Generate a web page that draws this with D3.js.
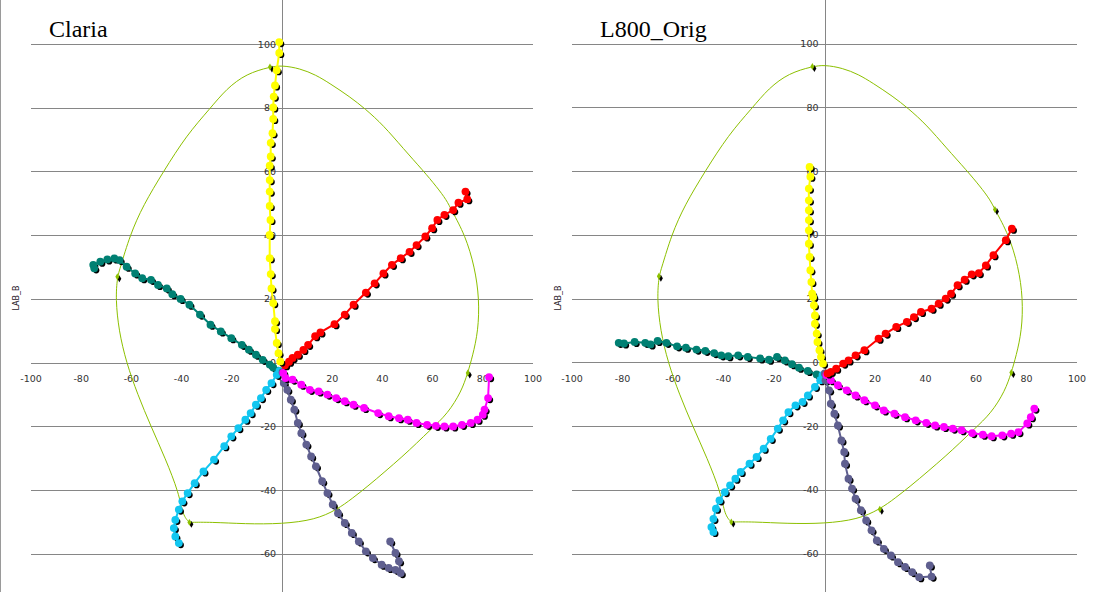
<!DOCTYPE html>
<html><head><meta charset="utf-8">
<script src="https://cdn.jsdelivr.net/npm/d3@7"></script>
<style>body{margin:0;background:#fff}svg{display:block}</style>
</head><body>
<svg id="c" width="1100" height="592"></svg>
<script>
const panelTitles = ["Claria", "L800_Orig"];
const xTicks = [-100,-80,-60,-40,-20,0,20,40,60,80,100];
const yTicks = [-60,-40,-20,0,20,40,60,80,100];
const yAxisTitle = "LAB_B";

// Gamut boundary (same target in both panels)
const gamutA = [-36.9,-36.9,-39.5,-41,-46.5,-52.2,-57.5,-62,-65,-66.3,-65.6,-64.5,-60.6,-55.3,-47.3,-38,-28.7,-22.1,-14.1,-4.8,0,7.2,13.5,19.1,27.1,33.1,40.4,48.3,56.3,61.6,65.6,67.5,73,76.8,78.6,78.2,75.9,74,71.5,66,59.2,53.6,48,41,34.1,28,21.9,13.2,0,-14.6,-28.5,-36.9,-36.9];
const gamutB = [-50.1,-50.1,-48,-41,-30,-20,-10,0,10,20,27,29.6,40,49.4,59.9,71.4,79.7,86,90.7,92.8,93.3,92.3,90.3,87.6,83.4,79.7,74.5,67.2,60.2,55.2,51,47.9,40,30,20,10,2,-3.2,-9,-16,-21,-25.3,-29.4,-34.2,-38.8,-42.6,-46.1,-49.3,-50.6,-50.6,-50,-50.1,-50.1];
const gamutVertA = [-4.8,67.5,74,21.9,-36.9,-65.6];
const gamutVertB = [92.8,47.9,-3.2,-46.1,-50.1,27];

// Claria series
const claYellowA = [-0.7,-1.4,-2.1,-2.8,-2.8,-3.5,-4.2,-4.5,-4.9,-4.9,-4.6,-4.9,-4.9,-4.9,-4.9,-4.5,-4.5,-3.8,-3.5,-3.5,-3.3,-2.8,-2.1,-1.1];
const claYellowB = [0.4,3,6.2,10.6,13,18.7,23.3,27.8,32.8,40.1,44.8,49.2,53.7,57.3,61.8,64.7,69,72,76.5,80.1,83.5,87,91.8,97.2];
const claYellowTopA = [-1.1];
const claYellowTopB = [100.6];
const claRedA = [1.2,2.8,4.2,6.3,8.5,10.4,13.2,15.3,20.9,25,28.5,33.4,36.9,40.4,43.8,47.3,50.8,53.6,57.1,59.8,61.9,64.7,68.2,70.3,73.8,73.1];
const claRedB = [-0.8,0.3,1.5,2.5,4,5.6,8.3,9.5,12.1,15.1,18.2,22,24.9,28,30.7,32.8,34.8,36.9,39.6,42.2,44.8,46.4,47.9,50.2,51.3,53.7];
const claTealA = [-1.5,-3.5,-4.9,-7.7,-10.4,-13.2,-16,-20.2,-24.4,-28.5,-32.7,-36.9,-40.4,-43.7,-45.9,-49.4,-52.2,-55.7,-58.5,-61.9,-64.7,-66.8,-69.6,-72.4,-75.2,-74.8];
const claTealB = [-2.5,-1.5,-0.6,0.9,2.5,4.1,5.6,7.7,9.8,11.9,15.1,18.2,20,21.5,23.3,24.4,26,26.5,28,30.1,32.2,32.7,32.4,31.7,30.7,29.6];
const claCyanA = [-1,-2.1,-4.2,-6.3,-8.4,-10.4,-12.5,-14.6,-17.4,-20.2,-23,-27.1,-31.3,-34.8,-37.6,-39.7,-41.1,-42.5,-43.1,-42.5,-41.1];
const claCyanB = [-2.6,-3.8,-6.4,-8.5,-11.1,-13.2,-15.8,-17.9,-20.5,-23.1,-26.2,-30.4,-34.1,-37.8,-40.9,-43.5,-46.1,-49.3,-51.9,-54.5,-56.6];
const claSlateA = [0.2,0.7,2.1,3.5,4.9,6.3,7.7,9.7,11.6,13.5,16,18.1,20.2,22.3,25,27.8,30.6,33.4,36.2,39.7,42.5,45.2,47.3,46.6,45.2,43.1];
const claSlateB = [-3,-6.4,-8.5,-11.6,-14.7,-18.9,-22.1,-25.7,-29.4,-32.5,-37.2,-40.9,-44.5,-47.2,-50.3,-53.4,-56.1,-59.2,-61.3,-63.4,-64.4,-65,-66,-62.3,-59.7,-56.1];
const claMagentaA = [0.5,1.4,4.2,7.7,11.1,14.6,18.1,21.6,25,28.5,32.7,38.3,42.5,46.6,50.1,53.6,57.8,61.3,64.7,68.2,71.7,75.2,77.9,80,80.7,82.1,82.5];
const claMagentaB = [-3.2,-4.8,-5.3,-6.9,-8.5,-9,-10,-11.1,-12.1,-13.2,-14.2,-15.8,-16.8,-17.4,-17.9,-18.9,-19.5,-19.8,-20,-20,-19.5,-18.9,-17.9,-16.3,-14.7,-11.1,-4.5];

// L800_Orig series
const origYellowA = [-0.6,-1.4,-2,-2.8,-3.1,-3.8,-3.8,-4.2,-4.5,-4.9,-5.2,-5.6,-5.9,-6.2,-6.2,-6.2,-6.2,-6.2,-6.2,-5.6,-5.9];
const origYellowB = [-0.4,1.7,3.8,6.4,9,12.1,14.7,17.9,20.5,21.5,25.2,28.9,33.1,37.2,41.4,44.6,47.7,50.8,54.5,58.2,61.3];
const origRedA = [1.2,2.5,4.6,7.4,9.5,12.3,15.8,21.4,24.2,28.4,32.6,35.4,38.2,42.4,45.2,48,50.1,52.7,55.5,58.3,61.1,63.9,66.9,71.8,74.2];
const origRedB = [-3.5,-3,-2,-0.4,0.6,2.2,3.8,7.4,9,11.1,12.7,14.2,15.8,16.8,18.4,20,21.5,24.2,25.9,27.6,28,30.4,33.6,38.3,41.9];
const origTealA = [-1.5,-3.1,-6.6,-10.1,-12.9,-15.7,-18.8,-22,-25.5,-30.4,-34.2,-38.1,-40.9,-43.7,-47.2,-50.7,-54.9,-58.4,-62.6,-66.1,-68.9,-71,-75.2,-79.4,-81.5];
const origTealB = [-4.5,-3.8,-2.7,-1.7,-0.6,0.6,1.7,0.8,1.2,1.7,2.2,1.9,2.2,2.9,3.6,4,4.6,5,6.1,6.7,5.6,6.1,6.4,5.9,6.1];
const origCyanA = [-0.8,-1.7,-3.8,-6.6,-8.7,-11.5,-14.3,-16.4,-18.5,-21.3,-24.1,-26.9,-29.7,-33.2,-35.3,-37.4,-39.5,-41.6,-43,-44,-44.8,-44];
const origCyanB = [-4,-5.6,-7.7,-10.4,-12.4,-13.5,-15.6,-18.2,-20.8,-24,-27.1,-29.7,-31.8,-34.4,-36.5,-38.6,-40.7,-43.3,-45.9,-49.1,-51.7,-53.2];
const origSlateA = [0.1,0.4,1.8,2.5,3.9,5.3,6.7,7.8,8.1,9.5,10.9,12.3,14.4,16.5,18.6,20.7,23.5,26.3,29.1,31.9,34.7,37.5,42.4,41.7];
const origSlateB = [-3.5,-5.6,-8.8,-13,-16.1,-19.8,-24.5,-28.1,-31.8,-36.5,-39.6,-42.8,-46.4,-49.6,-52.7,-55.9,-58.5,-60.6,-62.7,-64.2,-65.8,-67.4,-67.2,-63.7];
const origMagentaA = [0.8,2.5,5.3,8.8,12.3,15.8,20,23.5,27.7,31.9,36.1,40.3,43.8,47.3,50.8,54.3,58.5,62.7,66.2,70.4,73.9,76.8,80.3,81.7,83.1];
const origMagentaB = [-4,-5.6,-7.2,-8.8,-10.4,-11.9,-13.5,-15.1,-16.1,-17.2,-18.2,-19,-19.8,-20.3,-20.8,-21.3,-22.2,-22.7,-23.2,-22.9,-22.4,-21.9,-19.2,-17.2,-14.5];

const seriesColors = {yellow:"#ffff00", red:"#ff0000", teal:"#008073", cyan:"#12c6f0", magenta:"#ff00ff", slate:"#5f5f8f"};

const panelData = [
  [["teal",claTealA,claTealB],["cyan",claCyanA,claCyanB],["slate",claSlateA,claSlateB],["magenta",claMagentaA,claMagentaB],["red",claRedA,claRedB],["yellow",claYellowA.concat(claYellowTopA),claYellowB.concat(claYellowTopB)]],
  [["teal",origTealA,origTealB],["cyan",origCyanA,origCyanB],["slate",origSlateA,origSlateB],["magenta",origMagentaA,origMagentaB],["red",origRedA,origRedB],["yellow",origYellowA,origYellowB]]
];

const layout = [
  {x0:31, x1:533, y0:362.7, y100:44, title:[49,37], ytitle:16},
  {x0:572, x1:1077, y0:362.3, y100:43.5, title:[600,37], ytitle:558}
];

const svg = d3.select("#c");
svg.append("line").attr("x1",0.5).attr("x2",0.5).attr("y1",0).attr("y2",592).attr("stroke","#9a9a9a");

layout.forEach((L, pi) => {
  const x = d3.scaleLinear().domain([-100,100]).range([L.x0, L.x1]);
  const y = d3.scaleLinear().domain([0,100]).range([L.y0, L.y100]);
  const g = svg.append("g");

  g.selectAll("line.grid").data(yTicks).join("line")
    .attr("x1", x(-100)).attr("x2", x(100))
    .attr("y1", d => Math.round(y(d))+0.5).attr("y2", d => Math.round(y(d))+0.5)
    .attr("stroke","#868686").attr("stroke-width",1);
  g.append("line").attr("x1", Math.round(x(0))+0.5).attr("x2", Math.round(x(0))+0.5)
    .attr("y1",0).attr("y2",592).attr("stroke","#868686");

  const ff = "DejaVu Sans, Verdana, sans-serif";
  g.selectAll("text.xt").data(xTicks).join("text")
    .attr("x", d => x(d)).attr("y", y(0)+19.5).attr("text-anchor","middle")
    .attr("font-family",ff).attr("font-size","9.5px").attr("fill","#333")
    .text(d => d);
  g.selectAll("text.yt").data(yTicks).join("text")
    .attr("x", x(0)-6).attr("y", d => y(d)+3.5).attr("text-anchor","end")
    .attr("font-family",ff).attr("font-size","9.5px").attr("fill","#333")
    .text(d => d);

  g.append("text").attr("transform",`translate(${L.ytitle+3},298) rotate(-90)`)
    .attr("text-anchor","middle").attr("font-family",ff)
    .attr("font-size","8px").attr("fill","#2a1a2a").text(yAxisTitle);

  g.append("text").attr("x",L.title[0]).attr("y",L.title[1])
    .attr("font-family","Liberation Serif, Times New Roman, serif").attr("font-size","24px")
    .attr("fill","#000").text(panelTitles[pi]);

  const gam = gamutA.map((a,i)=>[a,gamutB[i]]);
  g.append("path").datum(gam)
    .attr("d", d3.line().x(d=>x(d[0])).y(d=>y(d[1])).curve(d3.curveBasis))
    .attr("fill","none").attr("stroke","#8cc000").attr("stroke-width",1);
  const verts = gamutVertA.map((a,i)=>[a,gamutVertB[i]]);
  const diamond = d3.symbol().type(d3.symbolDiamond).size(14);
  g.selectAll("path.vs").data(verts).join("path")
    .attr("d", diamond).attr("transform", d=>`translate(${x(d[0])+2},${y(d[1])+2})`).attr("fill","#000");
  g.selectAll("path.vg").data(verts).join("path")
    .attr("d", diamond).attr("transform", d=>`translate(${x(d[0])},${y(d[1])})`).attr("fill","#8cc000");

  panelData[pi].forEach(([name, A, B]) => {
    const pts = A.map((a,i)=>[a,B[i]]);
    const col = seriesColors[name];
    const sg = g.append("g");
    sg.selectAll("circle.sh").data(pts).join("circle")
      .attr("cx", d=>x(d[0])+2).attr("cy", d=>y(d[1])+2).attr("r",3.1).attr("fill","#000");
    sg.append("path").datum(pts)
      .attr("d", d3.line().x(d=>x(d[0])).y(d=>y(d[1])))
      .attr("fill","none").attr("stroke",col).attr("stroke-width",2);
    sg.selectAll("circle.pt").data(pts).join("circle")
      .attr("cx", d=>x(d[0])).attr("cy", d=>y(d[1])).attr("r",3.9).attr("fill",col);
  });
});
</script>
</body></html>
